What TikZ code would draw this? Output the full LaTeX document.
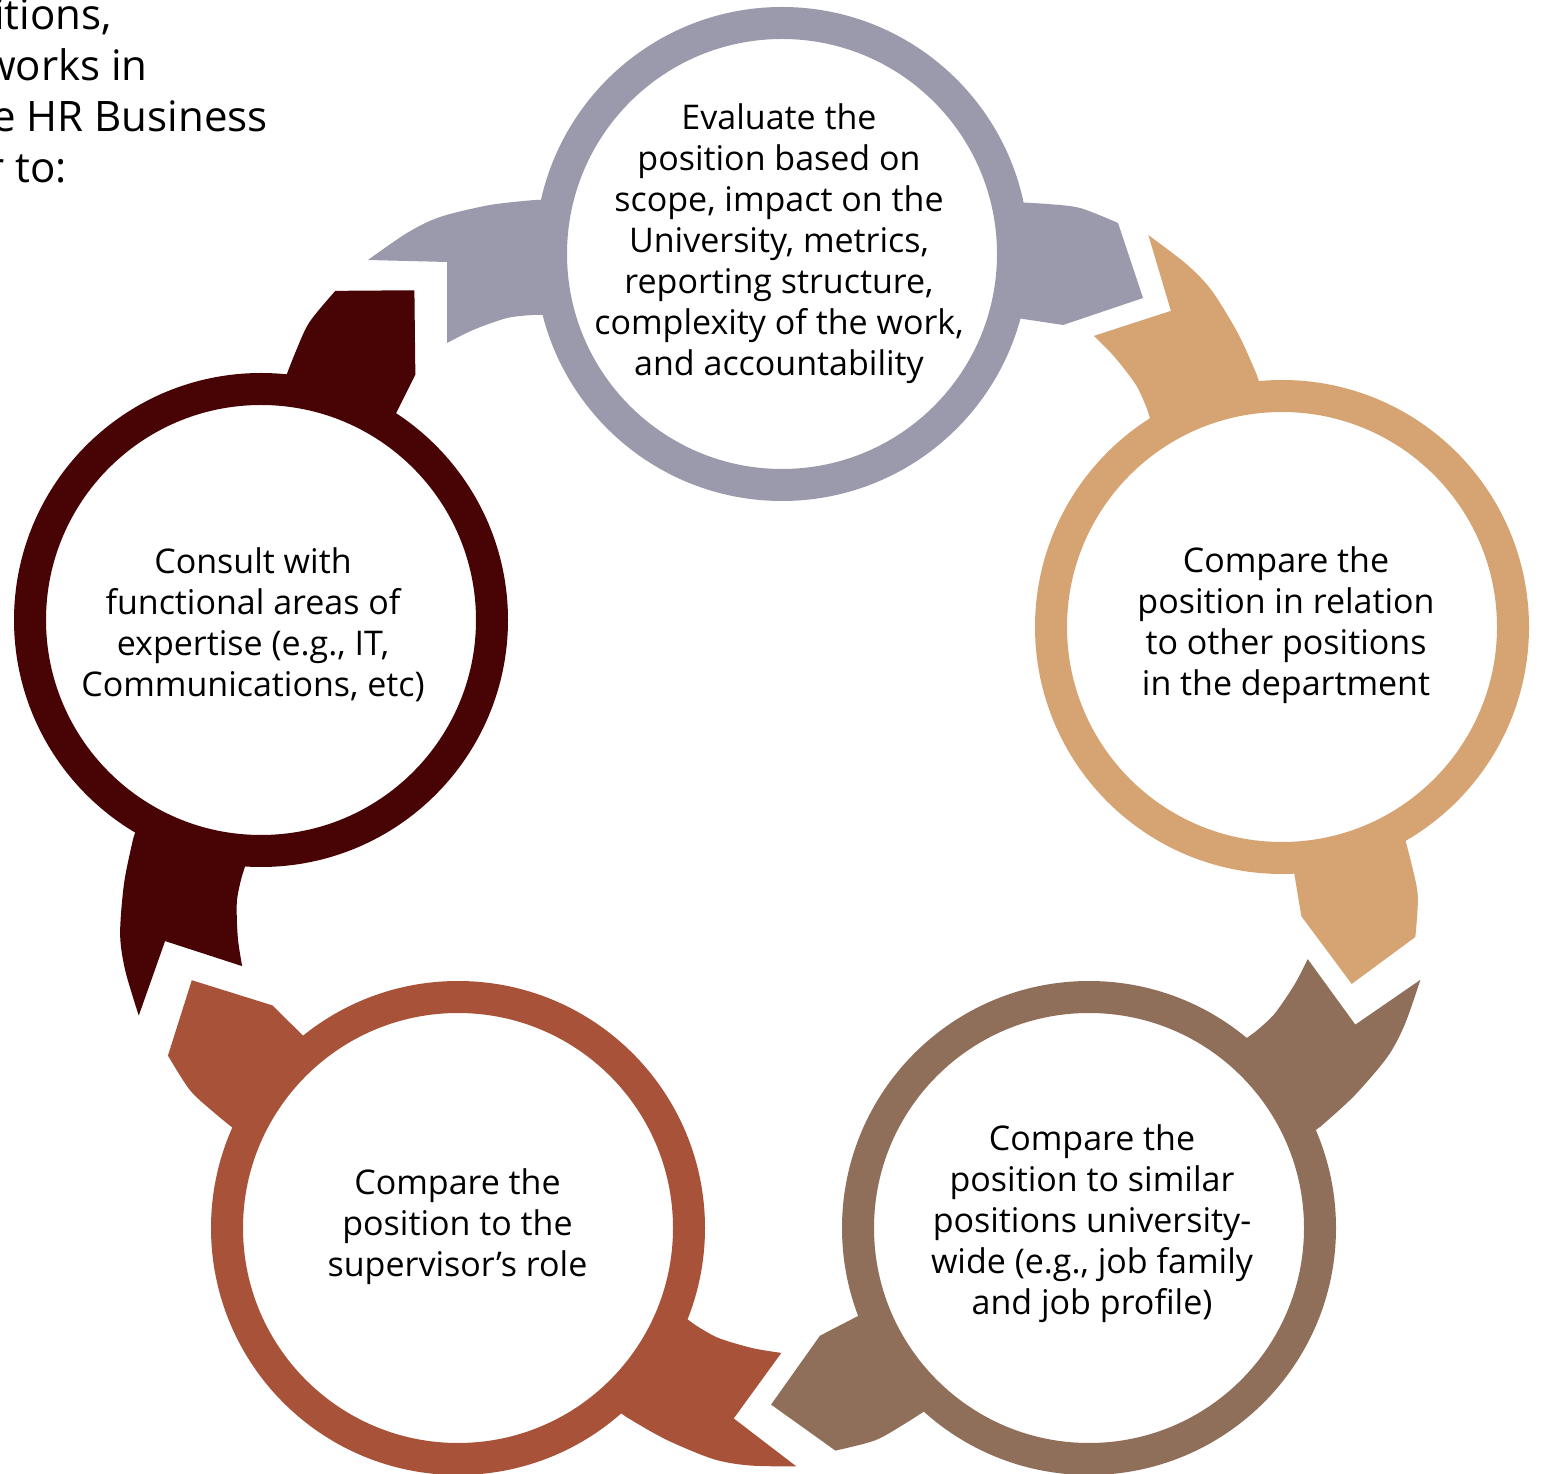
\documentclass[tikz,border=0pt]{standalone}
\usepackage{fontspec}
\setmainfont{Open Sans}
\definecolor{cgray}{RGB}{154,154,172}
\definecolor{ctan}{RGB}{214,164,115}
\definecolor{ctaupe}{RGB}{144,111,90}
\definecolor{crust}{RGB}{168,82,57}
\definecolor{cmaroon}{RGB}{72,4,4}
\tikzset{
  ringnode/.style={circle, draw=#1, fill=white, line width=32pt, minimum size=462pt, inner sep=0pt},
  steptext/.style={align=center, font=\fontsize{34}{41}\selectfont, inner sep=0pt, text=black},
  introtext/.style={anchor=base east, font=\fontsize{42}{51}\selectfont, inner sep=0pt, text=black},
  pics/wings/.style={code={
    % tail (swallowtail notch), counter-clockwise side
    \fill[#1] (-200,54) -- plot[smooth] coordinates {(-247,54) (-292,49) (-342,37) (-375,21) (-414,-6)}
      -- (-335,-8) -- plot[smooth] coordinates {(-335,-89) (-309,-76) (-275,-64) (-249,-61)}
      -- (-200,-61) -- cycle;
    % head (pointed), clockwise side
    \fill[#1] (200,52) -- plot[smooth] coordinates {(230,52) (265,50) (298,46) (336,31)}
      -- (361,-44) -- plot[smooth] coordinates {(281,-71) (248,-66) (228,-63)}
      -- (200,-63) -- cycle;
  }}
}
\begin{document}
\begin{tikzpicture}[x=1pt,y=1pt]
\useasboundingbox (0,0) rectangle (1541,1473);
\clip (0,0) rectangle (1541,1473);
\fill[white] (0,0) rectangle (1541,1473);

% wings
\pic[rotate=0] at (782,1219) {wings=cgray};
\pic[rotate=-72] at (1282,846) {wings=ctan};
\pic[rotate=-144] at (1089,245) {wings=ctaupe};
\pic[rotate=144] at (458,245) {wings=crust};
\pic[rotate=72] at (261,853) {wings=cmaroon};

% rings
\node[ringnode=cgray] (rgray) at (782,1219) {};
\node[ringnode=ctan] (rtan) at (1282,846) {};
\node[ringnode=ctaupe] (rtaupe) at (1089,245) {};
\node[ringnode=crust] (rrust) at (458,245) {};
\node[ringnode=cmaroon] (rmaroon) at (261,853) {};

% texts
\node[steptext] (tgray) at (779,1229) {Evaluate the\\position based on\\scope, impact on the\\University, metrics,\\reporting structure,\\complexity of the work,\\and accountability};
\node[steptext] (ttan) at (1286,847.5) {Compare the\\position in relation\\to other positions\\in the department};
\node[steptext] (ttaupe) at (1092,249.5) {Compare the\\position to similar\\positions university-\\wide (e.g., job family\\and job profile)};
\node[steptext] (trust) at (457.5,246) {Compare the\\position to the\\supervisor’s role};
\node[steptext] (tmaroon) at (253,848) {Consult with\\functional areas of\\expertise (e.g., IT,\\Communications, etc)};

% cropped intro text
\node[introtext] (i1) at (112,1443) {itions,};
\node[introtext] (i2) at (148,1392) {works in};
\node[introtext] (i3) at (268,1341) {e HR Business};
\node[introtext] (i4) at (67,1290) {r to:};
\end{tikzpicture}
\end{document}
